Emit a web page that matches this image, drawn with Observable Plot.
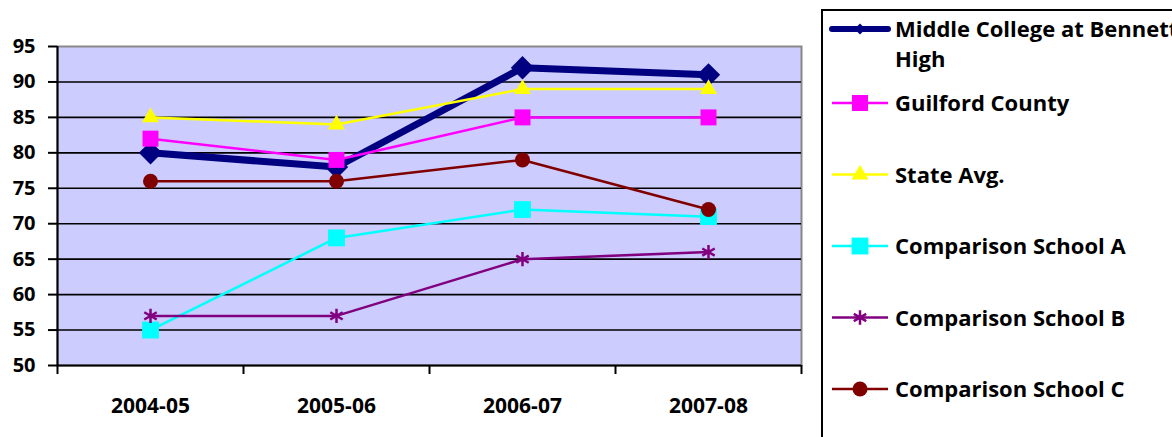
<!DOCTYPE html>
<html>
<head>
<meta charset="utf-8">
<script src="https://cdn.jsdelivr.net/npm/d3@7"></script>
<script src="https://cdn.jsdelivr.net/npm/@observablehq/plot@0.6"></script>
<style>
  body { margin: 0; background: #fff; }
  #wrap { position: relative; width: 1172px; height: 437px; overflow: hidden; font-family: "Open Sans", sans-serif; }
  #chart { position: absolute; left: 0; top: 0; }
  #legend { position: absolute; left: 0; top: 0; }
</style>
</head>
<body>
<div id="wrap">
  <div id="chart"></div>
  <svg id="legend" width="1172" height="437"></svg>
</div>
<script>
const years = ["2004-05", "2005-06", "2006-07", "2007-08"];
const middleCollege = [80, 78, 92, 91];
const guilford = [82, 79, 85, 85];
const stateAvg = [85, 84, 89, 89];
const schoolA = [55, 68, 72, 71];
const schoolB = [57, 57, 65, 66];
const schoolC = [76, 76, 79, 72];
const yTicks = [50, 55, 60, 65, 70, 75, 80, 85, 90, 95];

// series in excel drawing order
const series = [
  {name: ["Middle College at Bennett", "High"], values: middleCollege, color: "#000080", symbol: "diamond2", width: 7, r: 10.5, filled: true, legendR: 5, legendWidth: 6},
  {name: ["Guilford County"], values: guilford, color: "#ff00ff", symbol: "square", width: 2.5, r: 9, filled: true},
  {name: ["State Avg."], values: stateAvg, color: "#ffff00", symbol: "triangle", width: 2.5, r: 6.3, filled: true},
  {name: ["Comparison School A"], values: schoolA, color: "#00ffff", symbol: "square", width: 2.5, r: 9.5, filled: true},
  {name: ["Comparison School B"], values: schoolB, color: "#800080", symbol: "asterisk", width: 2.5, r: 6.8, filled: false},
  {name: ["Comparison School C"], values: schoolC, color: "#800000", symbol: "circle", width: 2.5, r: 7.5, filled: true}
];

const xDomain = [-0.5, years.length - 0.5];
const bounds = d3.range(xDomain[0], xDomain[1] + 0.01, 1);

let marks = [
  Plot.frame({fill: "#ccccff", stroke: "#888", strokeWidth: 2}),
  Plot.ruleY(yTicks.slice(1, -1), {stroke: "black", strokeWidth: 1.6}),
  Plot.ruleX([xDomain[0]], {stroke: "black", strokeWidth: 2}),
  Plot.ruleY([yTicks[0]], {stroke: "black", strokeWidth: 2}),
  Plot.axisY({ticks: yTicks, tickSize: 9, tickPadding: 13, label: null, fontSize: 20, strokeWidth: 2}),
  Plot.axisX({ticks: bounds, tickSize: 9, tickFormat: () => "", label: null, strokeWidth: 2}),
  Plot.axisX({ticks: d3.range(years.length), tickSize: 0, tickPadding: 33, tickFormat: i => years[i], label: null, fontSize: 21})
];

series.forEach(s => {
  const rows = s.values.map((v, i) => ({i, v}));
  marks.push(Plot.line(rows, {x: "i", y: "v", stroke: s.color, strokeWidth: s.width}));
  marks.push(Plot.dot(rows, s.filled
    ? {x: "i", y: "v", symbol: () => s.symbol, fill: s.color, r: s.r}
    : {x: "i", y: "v", symbol: () => s.symbol, stroke: s.color, strokeWidth: 2.5, r: s.r}));
});

const chart = Plot.plot({
  width: 820,
  height: 437,
  marginLeft: 57,
  marginRight: 19,
  marginTop: 46,
  marginBottom: 72,
  x: {domain: xDomain},
  y: {domain: [yTicks[0], yTicks[yTicks.length - 1]]},
  symbol: {type: "identity"},
  style: {fontFamily: "Open Sans", fontWeight: "bold", color: "black", background: "white", overflow: "visible"},
  marks
});
document.getElementById("chart").append(chart);

// legend
const lg = d3.select("#legend");
lg.append("rect").attr("x", 822).attr("y", 10).attr("width", 400).attr("height", 460)
  .attr("fill", "white").attr("stroke", "black").attr("stroke-width", 2);

const symbolMap = {diamond2: d3.symbolDiamond2, square: d3.symbolSquare, triangle: d3.symbolTriangle, asterisk: d3.symbolAsterisk, circle: d3.symbolCircle};

series.forEach((s, k) => {
  const cy = k === 0 ? 29 : 103 + (k - 1) * 71.5;
  const g = lg.append("g");
  g.append("line").attr("x1", 832).attr("x2", 888).attr("y1", cy).attr("y2", cy)
    .attr("stroke", s.color).attr("stroke-width", s.legendWidth || s.width).attr("stroke-linecap", k === 0 ? "round" : "butt");
  const r = s.legendR || s.r;
  const path = d3.symbol(symbolMap[s.symbol], Math.PI * r * r)();
  const p = g.append("path").attr("d", path).attr("transform", `translate(860,${cy})`);
  if (s.filled) p.attr("fill", s.color);
  else p.attr("fill", "none").attr("stroke", s.color).attr("stroke-width", 2.5);
  s.name.forEach((line, j) => {
    g.append("text").attr("x", 895).attr("y", cy + 8 + j * 30)
      .attr("font-family", "Open Sans").attr("font-weight", "bold").attr("font-size", 22)
      .attr("fill", "black").text(line);
  });
});
</script>
</body>
</html>
